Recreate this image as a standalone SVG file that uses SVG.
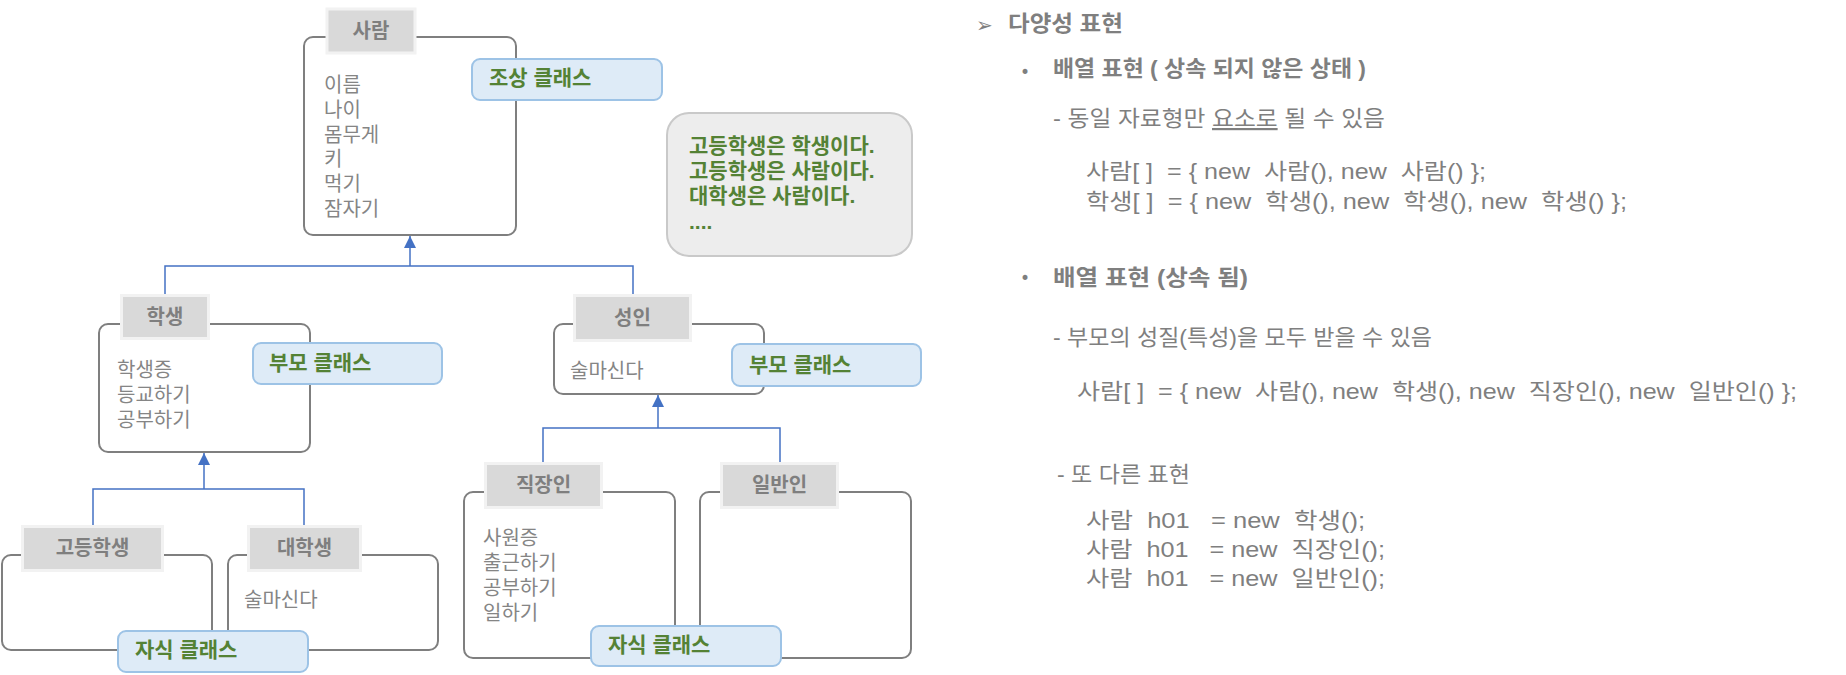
<svg xmlns="http://www.w3.org/2000/svg" width="1846" height="675" viewBox="0 0 1846 675">
<defs>
<style>
.body{fill:#ffffff;stroke:#7f7f7f;stroke-width:2}
.lab{fill:#d9d9d9;stroke:#f2f2f2;stroke-width:3}
.labt{font-family:"Liberation Sans","Noto Sans CJK KR",sans-serif;font-size:20px;font-weight:bold;fill:#7f7f7f;text-anchor:middle}
.attr{font-family:"Liberation Sans","Noto Sans CJK KR",sans-serif;font-size:20px;fill:#858585}
.call{fill:#deebf7;stroke:#9dc3e6;stroke-width:2}
.callt{font-family:"Liberation Sans","Noto Sans CJK KR",sans-serif;font-size:21px;font-weight:bold;fill:#548235}
.conn{fill:none;stroke:#4472c4;stroke-width:1.5}
.rt{font-family:"Liberation Sans","Noto Sans CJK KR",sans-serif;font-size:22px;fill:#7f7f7f}
.rh{font-family:"Liberation Sans","Noto Sans CJK KR",sans-serif;font-size:22px;font-weight:bold;fill:#7f7f7f}
.sym{font-family:"DejaVu Sans",sans-serif;fill:#7f7f7f}
</style>
<marker id="tri" viewBox="0 0 12 12" refX="12" refY="6" markerWidth="12" markerHeight="12" markerUnits="userSpaceOnUse" orient="auto">
<path d="M0,0 L12,6 L0,12 z" fill="#4472c4"/>
</marker>
</defs>
<rect x="0" y="0" width="1846" height="675" fill="#ffffff"/>

<g id="connectors">
<path class="conn" d="M165,295 V266 H633 V295"/>
<path class="conn" d="M410,266 V236" marker-end="url(#tri)"/>
<path class="conn" d="M93,526 V489 H304 V526"/>
<path class="conn" d="M204,489 V453" marker-end="url(#tri)"/>
<path class="conn" d="M543,462 V428 H780 V462"/>
<path class="conn" d="M658,428 V395" marker-end="url(#tri)"/>
</g>

<g id="node-saram">
<rect class="body" x="304" y="37" width="212" height="198" rx="9"/>
<rect class="lab" x="327" y="9" width="88" height="44"/>
<text class="labt" x="371" y="38">사람</text>
<text class="attr" x="324" y="92"><tspan x="324">이름</tspan><tspan x="324" dy="25">나이</tspan><tspan x="324" dy="25">몸무게</tspan><tspan x="324" dy="24">키</tspan><tspan x="324" dy="25">먹기</tspan><tspan x="324" dy="25">잠자기</tspan></text>
</g>

<g id="node-haksaeng">
<rect class="body" x="99" y="324" width="211" height="128" rx="9"/>
<rect class="lab" x="121.5" y="295.5" width="87" height="43"/>
<text class="labt" x="165" y="324">학생</text>
<text class="attr" x="117" y="377"><tspan x="117">학생증</tspan><tspan x="117" dy="25">등교하기</tspan><tspan x="117" dy="25">공부하기</tspan></text>
</g>

<g id="node-seongin">
<rect class="body" x="554" y="324" width="210" height="70" rx="9"/>
<rect class="lab" x="574.5" y="295.5" width="116" height="45"/>
<text class="labt" x="632.5" y="325">성인</text>
<text class="attr" x="570" y="378">술마신다</text>
</g>

<g id="node-godeung">
<rect class="body" x="2" y="555" width="210" height="95" rx="9"/>
<rect class="lab" x="22.5" y="526.5" width="140" height="44"/>
<text class="labt" x="92.5" y="555">고등학생</text>
</g>

<g id="node-daehak">
<rect class="body" x="228" y="555" width="210" height="95" rx="9"/>
<rect class="lab" x="248.5" y="526.5" width="112" height="44"/>
<text class="labt" x="304.5" y="555">대학생</text>
<text class="attr" x="244" y="607">술마신다</text>
</g>

<g id="node-jikjang">
<rect class="body" x="464" y="492" width="211" height="166" rx="9"/>
<rect class="lab" x="485.5" y="463.5" width="116" height="44"/>
<text class="labt" x="543.5" y="492">직장인</text>
<text class="attr" x="483" y="545"><tspan x="483">사원증</tspan><tspan x="483" dy="25">출근하기</tspan><tspan x="483" dy="25">공부하기</tspan><tspan x="483" dy="25">일하기</tspan></text>
</g>

<g id="node-ilban">
<rect class="body" x="700" y="492" width="211" height="166" rx="9"/>
<rect class="lab" x="721.5" y="463.5" width="116" height="44"/>
<text class="labt" x="779.5" y="492">일반인</text>
</g>

<g id="callout-josang">
<rect class="call" x="472" y="59" width="190" height="41" rx="8"/>
<text class="callt" x="489" y="85">조상 클래스</text>
</g>
<g id="callout-bumo-left">
<rect class="call" x="253" y="343" width="189" height="41" rx="8"/>
<text class="callt" x="269" y="370">부모 클래스</text>
</g>
<g id="callout-bumo-right">
<rect class="call" x="732" y="344" width="189" height="42" rx="8"/>
<text class="callt" x="749" y="372">부모 클래스</text>
</g>
<g id="callout-jasik-left">
<rect class="call" x="118" y="631" width="190" height="41" rx="8"/>
<text class="callt" x="135" y="657">자식 클래스</text>
</g>
<g id="callout-jasik-right">
<rect class="call" x="591" y="626" width="190" height="40" rx="8"/>
<text class="callt" x="608" y="652">자식 클래스</text>
</g>

<g id="note">
<rect x="667" y="113" width="245" height="143" rx="22" fill="#ededed" stroke="#c9c9c9" stroke-width="2"/>
<text class="callt" x="689" y="153"><tspan x="689">고등학생은 학생이다.</tspan><tspan x="689" dy="25">고등학생은 사람이다.</tspan><tspan x="689" dy="25">대학생은 사람이다.</tspan><tspan x="689" dy="26">....</tspan></text>
</g>

<g id="explanation">
<text class="sym" x="976" y="32" font-size="20">➢</text>
<text class="rh" x="1008" y="31" textLength="115" lengthAdjust="spacingAndGlyphs">다양성 표현</text>
<text class="sym" x="1020" y="78" font-size="17">•</text>
<text class="rh" x="1053" y="76" textLength="313" lengthAdjust="spacingAndGlyphs">배열 표현 ( 상속 되지 않은 상태 )</text>
<text class="rt" x="1053" y="126" textLength="332" lengthAdjust="spacingAndGlyphs">- 동일 자료형만 <tspan text-decoration="underline">요소로</tspan> 될  수 있음</text>
<text class="rt" x="1086" y="179" textLength="400" lengthAdjust="spacingAndGlyphs" xml:space="preserve">사람[ ]  = { new  사람(), new  사람() };</text>
<text class="rt" x="1086" y="209" textLength="541" lengthAdjust="spacingAndGlyphs" xml:space="preserve">학생[ ]  = { new  학생(), new  학생(), new  학생() };</text>
<text class="sym" x="1020" y="284" font-size="17">•</text>
<text class="rh" x="1053" y="285" textLength="195" lengthAdjust="spacingAndGlyphs">배열 표현 (상속 됨)</text>
<text class="rt" x="1053" y="345" textLength="379" lengthAdjust="spacingAndGlyphs">- 부모의 성질(특성)을 모두 받을 수 있음</text>
<text class="rt" x="1077" y="399" textLength="720" lengthAdjust="spacingAndGlyphs" xml:space="preserve">사람[ ]  = { new  사람(), new  학생(), new  직장인(), new  일반인() };</text>
<text class="rt" x="1057" y="482" textLength="133" lengthAdjust="spacingAndGlyphs">- 또 다른 표현</text>
<text class="rt" x="1086" y="528" textLength="279" lengthAdjust="spacingAndGlyphs" xml:space="preserve">사람  h01   = new  학생();</text>
<text class="rt" x="1086" y="557" textLength="299" lengthAdjust="spacingAndGlyphs" xml:space="preserve">사람  h01   = new  직장인();</text>
<text class="rt" x="1086" y="586" textLength="299" lengthAdjust="spacingAndGlyphs" xml:space="preserve">사람  h01   = new  일반인();</text>
</g>
</svg>
